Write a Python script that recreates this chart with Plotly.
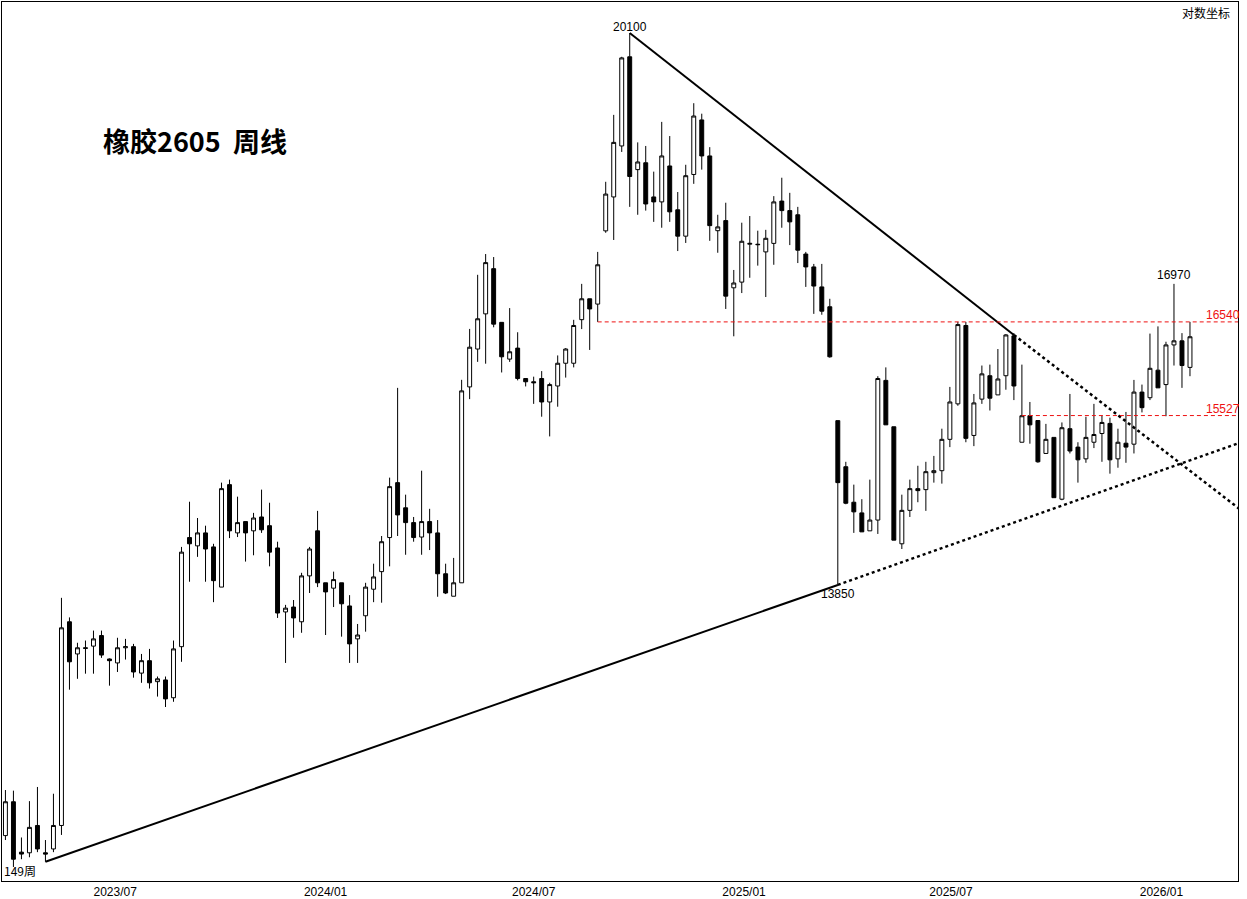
import datetime as dt
import math
import plotly.graph_objects as go

open_ = [11695,11965,11565,11560,11775,11560,11590,11775,13510,13220,13275,13290,13385,13175,13140,13275,13285,13050,13160,12975,
 12990,12835,13285,14300,14220,14345,14210,13830,14820,14345,14455,14365,14500,14415,14200,13600,13645,13510,13935,14365,
 13870,13820,13870,13655,13355,13565,13810,13975,14300,14840,14590,14445,14305,14455,14345,13955,13745,13870,15830,16240,
 16630,17145,16535,16130,16250,15920,15885,15920,15670,15840,16085,16085,16565,16800,16740,17588,17995,18625,19780,18330,
 18415,17995,17935,18375,17840,17525,18270,18955,18500,17590,17710,16925,16990,17430,17430,17340,17440,17945,17830,17780,
 17315,17165,16935,16710,15474,15000,14645,14540,14365,14470,15900,15410,14240,14565,14780,14770,14940,14960,15280,15650,
 16500,15320,15700,15950,15745,15950,16385,15250,15525,15475,15135,15300,14675,15390,15200,15080,15250,15340,15445,15080,
 15240,15230,15775,15715,16010,15855,16285,16330,16040]
high = [12060,12055,11680,11970,12085,11660,12030,13730,13550,13320,13340,13430,13430,13180,13365,13355,13310,13220,13265,13020,
 13020,13340,14210,14650,14490,14415,14240,14840,14870,14700,14455,14540,14770,14640,14260,13665,13710,13964,14210,14560,
 13870,13975,13870,13755,13490,13870,14050,14315,14890,15820,14720,14500,14960,14580,14470,14050,14105,15906,16462,17074,
 17315,17280,16535,16695,16425,15920,15940,16000,15875,16170,16250,16563,16970,16800,17340,18180,19020,19780,20100,18670,
 18625,18305,18930,18750,18055,18390,19170,19035,18610,17780,17925,17130,17685,17765,17590,17600,18005,18230,18045,17875,
 17340,17200,17200,16800,15474,15050,14820,14675,14870,15945,16040,15410,14720,14870,15010,15050,15110,15390,15830,16540,
 16540,15755,16060,16070,16240,16405,16415,16070,15670,15475,15440,15300,15455,15755,15250,15515,15650,15525,15505,15390,
 15565,15905,15855,16410,16490,16320,16970,16415,16540]
low = [11660,11450,11510,11525,11565,11490,11565,11700,12905,13000,13045,13045,13185,12940,13060,13170,13010,12965,12915,12845,
 12755,12800,13150,13880,14115,13880,13690,13830,14295,14305,14070,14130,14345,14025,13545,13140,13365,13410,13775,13830,
 13390,13645,13375,13140,13140,13420,13690,13685,14025,14315,14135,14260,14135,14180,13740,13765,13745,13870,15700,16100,
 16080,16480,15985,16100,15900,15835,15650,15515,15310,15620,15930,16040,16460,16230,16540,17565,17480,18550,17875,17780,
 17830,17695,17625,17695,17350,17445,18155,18330,17470,17330,16685,16380,16865,17040,17180,16820,17190,17625,17420,17210,
 16935,16630,16620,16145,13850,14625,14345,14355,14365,14335,15430,14275,14190,14500,14645,14560,14840,14830,15200,15630,
 15250,15210,15650,15580,15745,15800,15690,15250,15235,15040,15135,14690,14665,15135,14840,15040,15190,15050,14930,14990,
 15040,15135,15560,15690,15820,15520,16060,15820,15945]
close = [11965,11510,11550,11760,11590,11550,11775,13455,13150,13275,13270,13355,13210,13160,13275,13285,13060,13160,12965,13000,
 12825,13265,14160,14240,14345,14190,13890,14780,14365,14445,14345,14490,14375,14160,13590,13635,13545,13935,14190,13870,
 13785,13900,13675,13310,13390,13830,13925,14260,14800,14520,14445,14300,14455,14345,13955,13775,13870,15788,16260,16575,
 17215,16515,16155,16210,15920,15885,15875,15670,15855,16085,16240,16500,16800,16685,17190,18030,18670,19765,18245,18425,
 17910,17935,18500,17815,17525,18255,19005,18500,17650,17635,16830,16980,17465,17440,17425,17500,17935,17830,17695,17360,
 17165,16945,16660,16155,14840,14635,14550,14355,14470,15920,15430,14275,14565,14780,14760,14950,14960,15280,15670,16510,
 15290,15660,15970,15710,15915,16395,15840,15525,15430,15050,15280,14690,15400,15160,15070,15300,15330,15455,15070,15250,
 15200,15775,15610,16030,15820,16285,16330,16060,16375]

start = dt.date(2023, 3, 27)
def wk(i):  # candle index (1-based, may be fractional) -> date
    return start + dt.timedelta(days=7 * (i - 1))
dates = [wk(i + 1) for i in range(len(close))]

tick_dates = ["2023-07-01", "2024-01-01", "2024-07-01", "2025-01-01", "2025-07-01", "2026-01-01"]
tick_text = ["2023/07", "2024/01", "2024/07", "2025/01", "2025/07", "2026/01"]

# trend lines (candle index, price)
upper_solid_i, upper_solid_p = [79, 127], [20100, 16395]
upper_dot_i, upper_dot_p = [127, 156.3], [16395, 14512]
lower_solid_i, lower_solid_p = [6, 105], [11490, 13850]
lower_dot_i, lower_dot_p = [105, 156.3], [13850, 15275]
levels = [16540, 15527]
level_start = [75, 128]

fig = go.Figure()
fig.add_trace(go.Candlestick(
    x=dates, open=open_, high=high, low=low, close=close,
    increasing=dict(line=dict(color="black", width=1), fillcolor="white"),
    decreasing=dict(line=dict(color="black", width=1), fillcolor="black"),
    whiskerwidth=0, showlegend=False, hoverinfo="skip"))
for xi, yp, dash, w in [(upper_solid_i, upper_solid_p, "solid", 2), (upper_dot_i, upper_dot_p, "dot", 2.5),
                        (lower_solid_i, lower_solid_p, "solid", 2), (lower_dot_i, lower_dot_p, "dot", 2.5)]:
    fig.add_trace(go.Scatter(x=[wk(v) for v in xi], y=yp, mode="lines",
                             line=dict(color="black", width=w, dash=dash), showlegend=False, hoverinfo="skip"))
x_end = wk(156.3)
for lv, s in zip(levels, level_start):
    fig.add_trace(go.Scatter(x=[wk(s), x_end], y=[lv, lv], mode="lines",
                             line=dict(color="#ee1111", width=1, dash="4px,3px"), showlegend=False, hoverinfo="skip"))
    fig.add_annotation(x=1, xref="paper", y=math.log10(lv), text=str(lv), showarrow=False, xanchor="right",
                       yanchor="bottom", font=dict(color="#ee1111", size=12, family="Liberation Sans"),
                       yshift=-2, xshift=4)

ann_font = dict(color="black", size=12, family="Liberation Sans")
fig.add_annotation(x=wk(79), y=math.log10(20100), text="20100", showarrow=False, yanchor="bottom", font=ann_font, yshift=-3)
fig.add_annotation(x=wk(147), y=math.log10(16970), text="16970", showarrow=False, yanchor="bottom", font=ann_font)
fig.add_annotation(x=wk(105), y=math.log10(13850), text="13850", showarrow=False, yanchor="top", font=ann_font, xshift=0)
fig.add_annotation(x=0, xref="paper", y=0, yref="paper", text="149周", showarrow=False, xanchor="left",
                   yanchor="bottom", font=dict(color="black", size=12, family="Noto Sans CJK SC"))
fig.add_annotation(x=0.995, xref="paper", y=1, yref="paper", text="对数坐标", showarrow=False, xanchor="right",
                   yanchor="top", font=dict(color="black", size=12, family="Noto Sans CJK SC"))
fig.add_annotation(x=0.08, xref="paper", y=0.843, yref="paper", text="<b>橡胶2605  周线</b>", showarrow=False,
                   xanchor="left", yanchor="middle", font=dict(color="black", size=27, family="Noto Sans CJK SC"))

fig.update_layout(
    width=1247, height=899, paper_bgcolor="white", plot_bgcolor="white",
    margin=dict(l=2, r=9, t=2, b=18, autoexpand=False),
    xaxis=dict(type="date", range=[wk(0.6), wk(155.1)], tickvals=tick_dates, ticktext=tick_text,
               showgrid=False, rangeslider=dict(visible=False), showline=True, linecolor="black", mirror=True,
               ticks="", ticklen=0, tickfont=dict(size=12, family="Liberation Sans", color="black")),
    yaxis=dict(type="log", range=[math.log10(11342), math.log10(20525)], showgrid=False,
               showticklabels=False, showline=True, linecolor="black", mirror=True, ticks=""),
)
fig.write_html("out.html", config={"displayModeBar": False},
               post_script="document.body.style.margin='0';document.body.style.overflow='hidden';")
